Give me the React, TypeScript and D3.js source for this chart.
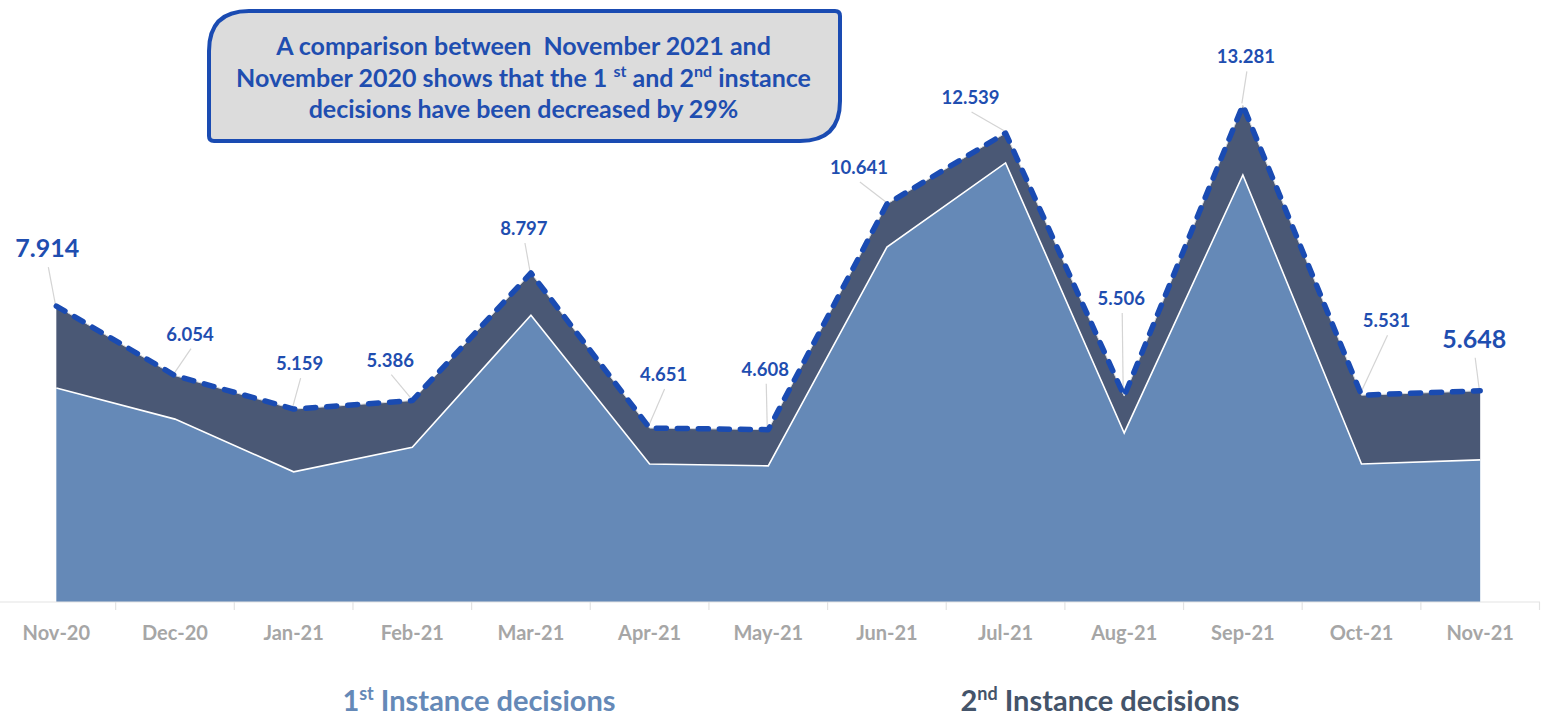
import { useEffect, useRef } from 'react';
import * as d3 from 'd3';

const months = [
  'Nov-20', 'Dec-20', 'Jan-21', 'Feb-21', 'Mar-21', 'Apr-21', 'May-21',
  'Jun-21', 'Jul-21', 'Aug-21', 'Sep-21', 'Oct-21', 'Nov-21',
];
// total decisions (thousands), as labelled on the chart
const totalDecisions = [7.914, 6.054, 5.159, 5.386, 8.797, 4.651, 4.608, 10.641, 12.539, 5.506, 13.281, 5.531, 5.648];
// 1st instance
const firstInstance = [5.72, 4.89, 3.48, 4.14, 7.67, 3.69, 3.64, 9.49, 11.74, 4.52, 11.42, 3.69, 3.8];
const secondInstance = totalDecisions.map((t, i) => t - firstInstance[i]);

// label baseline offset from the data point
const labelOffsets: [number, number][] = [
  [-9, -49], [15, -35], [6, -39], [-22, -34], [-7, -38], [14, -47], [-3, -54],
  [-28, -30], [-35, -29], [-3, -91], [3, -42], [25, -68], [-6, -43],
];
const bigLabels = [0, 12];

const legendItems = [
  { num: '1', sup: 'st', text: ' Instance decisions', color: '#6589B7', x: 479 },
  { num: '2', sup: 'nd', text: ' Instance decisions', color: '#44546A', x: 1100 },
];

const FONT = 'Lato, "Open Sans", sans-serif';
const BLUE = '#1F4EB0';

export default function App() {
  const ref = useRef<SVGSVGElement | null>(null);

  useEffect(() => {
    document.body.style.margin = '0';
    const svg = d3.select(ref.current);
    svg.selectAll('*').remove();

    const width = 1542;
    const height = 717;
    const baseY = 602;

    const x = d3.scaleBand<string>().domain(months).range([-3, 1539.5]).padding(0);
    const cx = (i: number) => x(months[i])! + x.bandwidth() / 2;
    const y = d3.scaleLinear().domain([0, 16]).range([baseY, baseY - 16 * 37.4]);

    const stackData = months.map((m, i) => ({ i, first: firstInstance[i], second: secondInstance[i] }));
    const series = d3.stack<any>().keys(['first', 'second'])(stackData);

    const area = d3.area<any>()
      .x(d => cx(d.data.i))
      .y0(d => y(d[0]))
      .y1(d => y(d[1]));

    const colors = ['#6589B7', '#4A5875'];
    svg.append('g')
      .selectAll('path')
      .data(series)
      .join('path')
      .attr('fill', (_, k) => colors[k])
      .attr('d', area as any);

    const topLine = d3.line<any>().x(d => cx(d.data.i)).y(d => y(d[1]));
    // white edge on the 1st instance area
    svg.append('path')
      .datum(series[0])
      .attr('fill', 'none')
      .attr('stroke', '#fff')
      .attr('stroke-width', 1.6)
      .attr('d', topLine as any);

    // thin light edge along the total
    svg.append('path')
      .datum(series[1])
      .attr('fill', 'none')
      .attr('stroke', '#d9d9d9')
      .attr('stroke-width', 1)
      .attr('d', topLine as any);

    // x axis
    const axis = svg.append('g').attr('transform', `translate(0,${baseY})`);
    axis.append('line')
      .attr('x1', 0).attr('x2', 1540)
      .attr('stroke', '#e3e3e3').attr('stroke-width', 1.2);
    const edges = months.map(m => x(m)!).concat([x(months[months.length - 1])! + x.bandwidth()]);
    axis.selectAll('line.tick')
      .data(edges)
      .join('line')
      .attr('class', 'tick')
      .attr('x1', d => d).attr('x2', d => d)
      .attr('y1', 0).attr('y2', 8)
      .attr('stroke', '#e3e3e3').attr('stroke-width', 1.2);
    axis.selectAll('text')
      .data(months)
      .join('text')
      .attr('x', (_, i) => cx(i))
      .attr('y', 38)
      .attr('text-anchor', 'middle')
      .attr('font-family', FONT)
      .attr('font-weight', 700)
      .attr('font-size', 20)
      .attr('fill', '#A6A6A6')
      .text(d => d);

    // leader lines + labels
    const labels = svg.append('g');
    totalDecisions.forEach((v, i) => {
      const px = cx(i);
      const py = y(v);
      const [dx, dy] = labelOffsets[i];
      const big = bigLabels.includes(i);
      const lx = px + dx;
      const ly = py + dy;
      labels.append('line')
        .attr('x1', lx + 1).attr('y1', ly + (big ? 10 : 8))
        .attr('x2', px - 1).attr('y2', py - 2)
        .attr('stroke', '#d4d4d4').attr('stroke-width', 1.2);
      labels.append('text')
        .attr('x', lx).attr('y', ly)
        .attr('text-anchor', 'middle')
        .attr('font-family', FONT)
        .attr('font-weight', 700)
        .attr('font-size', big ? 25 : 18.5)
        .attr('fill', BLUE)
        .text(v.toFixed(3));
    });

    // dashed total line on top
    svg.append('path')
      .datum(series[1])
      .attr('fill', 'none')
      .attr('stroke', '#1A4BB2')
      .attr('stroke-width', 5.5)
      .attr('stroke-linecap', 'round')
      .attr('stroke-linejoin', 'round')
      .attr('stroke-dasharray', '10 11')
      .attr('d', topLine as any);

    // note box
    const bx0 = 209, bx1 = 840, by0 = 11, by1 = 141, r = 40, r2 = 5;
    const note = svg.append('g');
    note.append('path')
      .attr('d', `M${bx0},${by0 + r} Q${bx0},${by0} ${bx0 + r},${by0} L${bx1 - r2},${by0} Q${bx1},${by0} ${bx1},${by0 + r2} L${bx1},${by1 - r} Q${bx1},${by1} ${bx1 - r},${by1} L${bx0 + r2},${by1} Q${bx0},${by1} ${bx0},${by1 - r2} Z`)
      .attr('fill', '#DCDCDC')
      .attr('stroke', '#1A4BB2')
      .attr('stroke-width', 4);
    const noteText = note.append('text')
      .attr('text-anchor', 'middle')
      .attr('font-family', FONT)
      .attr('font-weight', 700)
      .attr('font-size', 25)
      .attr('fill', BLUE);
    const mid = (bx0 + bx1) / 2 - 1;
    noteText.append('tspan').attr('x', mid).attr('y', 55).text('A comparison between\u00a0 November 2021 and');
    const l2 = noteText.append('tspan').attr('x', mid).attr('y', 87);
    l2.append('tspan').text('November 2020 shows that the 1 ');
    l2.append('tspan').attr('font-size', 16).attr('dy', -10).text('st');
    l2.append('tspan').attr('dy', 10).text(' and 2');
    l2.append('tspan').attr('font-size', 16).attr('dy', -10).text('nd');
    l2.append('tspan').attr('dy', 10).text(' instance');
    noteText.append('tspan').attr('x', mid).attr('y', 118).text('decisions have been decreased by 29%');

    // legend
    const legend = svg.append('g');
    legendItems.forEach(item => {
      const t = legend.append('text')
        .attr('x', item.x).attr('y', 711)
        .attr('text-anchor', 'middle')
        .attr('font-family', FONT)
        .attr('font-weight', 700)
        .attr('font-size', 29)
        .attr('fill', item.color);
      t.append('tspan').text(item.num);
      t.append('tspan').attr('font-size', 18).attr('dy', -11).text(item.sup);
      t.append('tspan').attr('dy', 11).text(item.text);
    });

    svg.attr('width', width).attr('height', height);
  }, []);

  return <svg ref={ref} width={1542} height={717} style={{ display: 'block', background: '#fff' }} />;
}
